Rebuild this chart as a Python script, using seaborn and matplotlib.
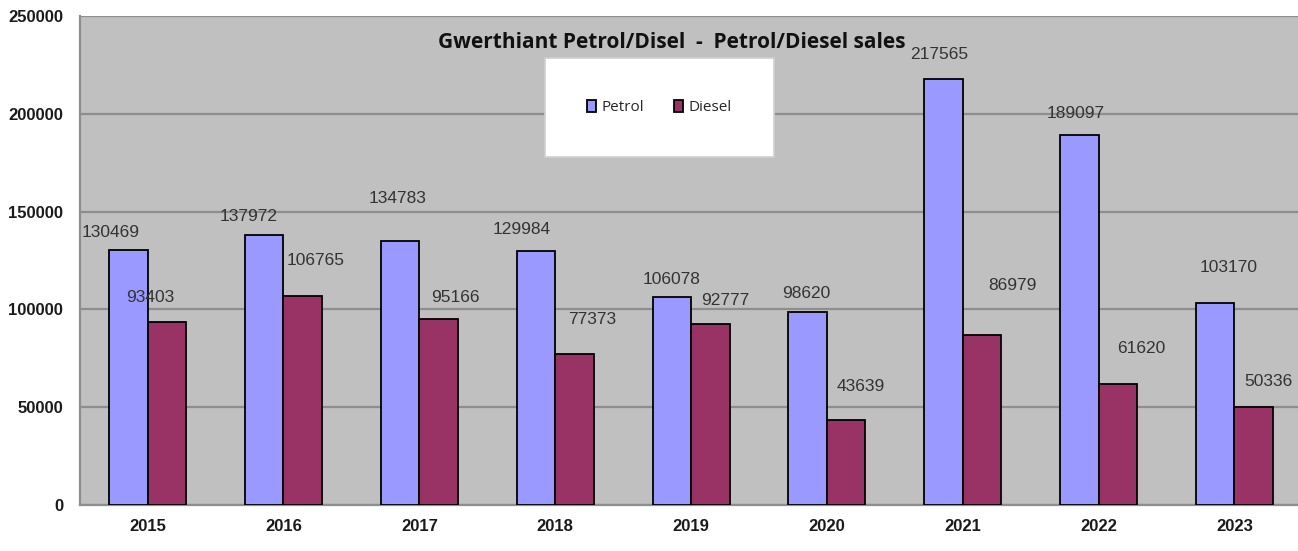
import pandas as pd
import seaborn as sns
import matplotlib.pyplot as plt

# chart data
years = ["2015", "2016", "2017", "2018", "2019", "2020", "2021", "2022", "2023"]
petrol = [130469, 137972, 134783, 129984, 106078, 98620, 217565, 189097, 103170]
diesel = [93403, 106765, 95166, 77373, 92777, 43639, 86979, 61620, 50336]
series = ["Petrol", "Diesel"]

# label nudges (pixels), the excel labels are not placed evenly
petrol_dx = [-18, -16, -3, -14, 0, -1, -4, -4, 13]
petrol_dy = [17, 19, 43, 21, 18, 19, 25, 22, 36]
diesel_dx = [-17, 13, 17, 18, 15, 15, 30, 23, 15]
diesel_dy = [25, 36, 21, 34, 23, 33, 49, 36, 25]

df = pd.DataFrame({
    "year": years * 2,
    "sales": petrol + diesel,
    "fuel": [series[0]] * len(years) + [series[1]] * len(years),
})

sns.set_style("white")
plt.rcParams["font.family"] = ["Liberation Sans", "DejaVu Sans"]

fig = plt.figure(figsize=(12.98, 5.51), dpi=100)
ax = fig.add_axes([0.0614, 0.0835, 0.942, 0.8875])
ax.set_facecolor("#C0C0C0")

sns.barplot(data=df, x="year", y="sales", hue="fuel", palette=["#9999FF", "#993366"],
            width=0.567, gap=0, saturation=1, edgecolor="black", linewidth=1.3,
            ax=ax, zorder=3)

# data labels
for bars, dxs, dys in zip(ax.containers, [petrol_dx, diesel_dx], [petrol_dy, diesel_dy]):
    for bar, dx, dy in zip(bars, dxs, dys):
        ax.annotate(f"{int(bar.get_height())}",
                    (bar.get_x() + bar.get_width() / 2, bar.get_height()),
                    xytext=(dx, dy), textcoords="offset pixels",
                    ha="center", va="center", fontsize=12.5, color="#333333", zorder=4)

ax.set_xlim(-0.5, 8.5)
ax.set_ylim(0, 250000)
ax.set_yticks(range(0, 250001, 50000))
ax.grid(axis="y", color="#8E8E8E", linewidth=1.6, zorder=0)
ax.set_xlabel("")
ax.set_ylabel("")

for s in ["top", "right"]:
    ax.spines[s].set_visible(False)
for s in ["left", "bottom"]:
    ax.spines[s].set_color("#8E8E8E")
    ax.spines[s].set_linewidth(1.6)

ax.tick_params(axis="y", length=4, width=1.2, color="#8E8E8E", pad=8, labelsize=12)
ax.tick_params(axis="x", length=0, pad=10, labelsize=12)
ax.set_xticks([i + 0.5 for i in range(len(years) - 1)], minor=True)
ax.tick_params(axis="x", which="minor", length=4, width=1.2, color="#8E8E8E")
for lab in ax.get_xticklabels() + ax.get_yticklabels():
    lab.set_fontweight("bold")
    lab.set_color("#1a1a1a")

leg = ax.legend(loc="upper left", bbox_to_anchor=(545 / 1298, 1 - 58 / 551),
                bbox_transform=fig.transFigure, ncol=2, borderaxespad=0,
                frameon=True, fancybox=False, borderpad=2.75, handlelength=0.6,
                handleheight=0.8, handletextpad=0.35, columnspacing=1.95,
                prop={"family": "Open Sans", "size": 11})
leg.get_frame().set_facecolor("white")
leg.get_frame().set_edgecolor("#D0D0D0")
leg.get_frame().set_linewidth(1.2)
leg.get_frame().set_alpha(1)
leg.set_zorder(5)

fig.text(672 / 1298, 1 - 42 / 551, "Gwerthiant Petrol/Disel  -  Petrol/Diesel sales",
         ha="center", va="center", fontsize=15, fontweight="bold",
         family="Open Sans", color="#111111")

fig.savefig("out.png", dpi=100, facecolor="white")
